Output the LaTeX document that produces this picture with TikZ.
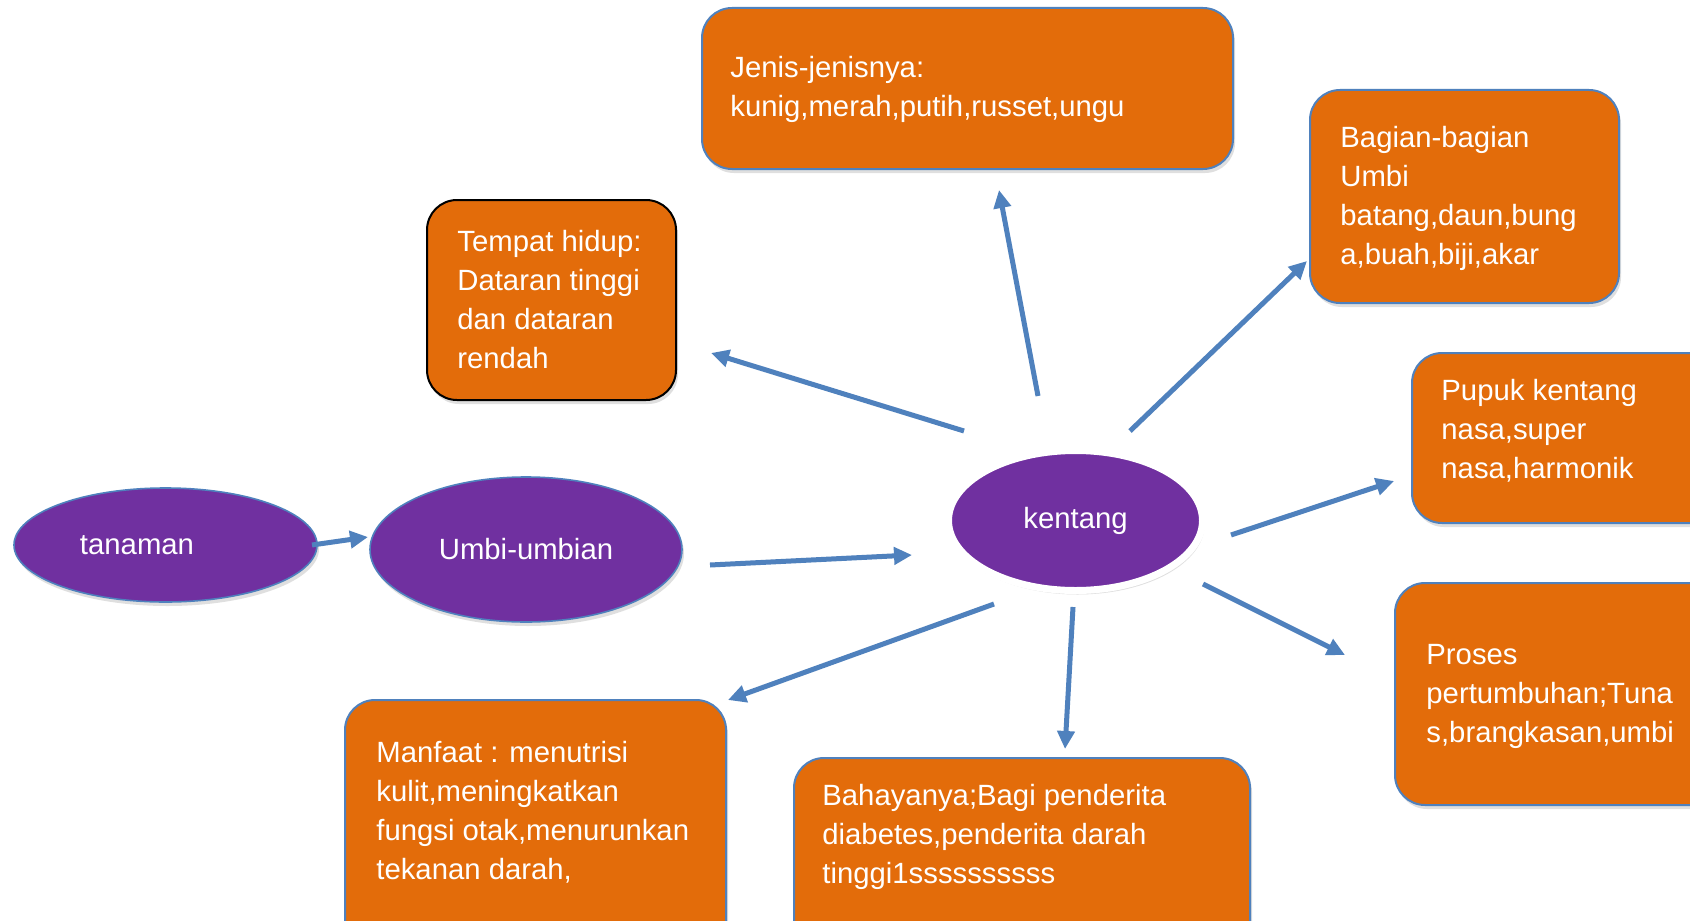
\documentclass[tikz,border=0pt]{standalone}
\usepackage{fontspec}
\setmainfont{Liberation Sans}
\usetikzlibrary{arrows.meta,shapes.geometric,shadows}
\definecolor{org}{HTML}{E36C0A}
\definecolor{pur}{HTML}{7030A0}
\definecolor{blu}{HTML}{4F81BD}
\begin{document}
\begin{tikzpicture}[x=0.5pt,y=-0.5pt,
  box/.style={draw=blu, line width=1pt, fill=org, rounded corners=15pt, inner sep=0pt,
    drop shadow={opacity=0.25, shadow xshift=1pt, shadow yshift=-2pt}},
  blackbox/.style={box, draw=black},
  txt/.style={text=white, align=left, anchor=west, inner sep=0pt,
    font=\fontsize{14.65}{19.5}\selectfont},
  oval/.style={ellipse, fill=pur, draw=blu, line width=0.8pt, inner sep=0pt,
    text=white, font=\fontsize{14.65}{19.5}\selectfont,
    drop shadow={opacity=0.25, shadow xshift=1pt, shadow yshift=-2pt}},
  arr/.style={draw=blu, line width=2.5pt, -{Triangle[length=9pt,width=8.5pt]}}]
\useasboundingbox (0,0) rectangle (1690,920);
\clip (0,0) rectangle (1690,920);
\fill[white] (0,0) rectangle (1690,920);

% boxes
\node[box, minimum width=265.5pt, minimum height=80.5pt] (jenis) at (967.5,88.5) {};
\node[txt] (jenisT) at (730,89.5) {Jenis-jenisnya:\\kunig,merah,putih,russet,ungu};

\node[box, minimum width=154.5pt, minimum height=106.5pt] (bagian) at (1464.5,196.5) {};
\node[txt] (bagianT) at (1340,198) {Bagian-bagian\\Umbi\\batang,daun,bung\\a,buah,biji,akar};

\node[blackbox, minimum width=124.5pt, minimum height=100pt] (tempat) at (551.5,300) {};
\node[txt] (tempatT) at (457,300) {Tempat hidup:\\Dataran tinggi\\dan dataran\\rendah};

\node[box, minimum width=169pt, minimum height=85pt] (pupuk) at (1581,438) {};
\node[txt] (pupukT) at (1441,431) {Pupuk kentang\\nasa,super\\nasa,harmonik};

\node[box, minimum width=177.5pt, minimum height=111pt] (proses) at (1572.5,694) {};
\node[txt] (prosesT) at (1426,696) {Proses\\pertumbuhan;Tuna\\s,brangkasan,umbi};

\node[box, minimum width=190.5pt, minimum height=130pt] (manfaat) at (535.5,830) {};
\node[txt] (manfaatT) at (376,812.5) {Manfaat : menutrisi\\kulit,meningkatkan\\fungsi otak,menurunkan\\tekanan darah,};

\node[box, minimum width=228pt, minimum height=101pt] (bahaya) at (1022,859) {};
\node[txt] (bahayaT) at (822,837) {Bahayanya;Bagi penderita\\diabetes,penderita darah\\tinggi1ssssssssss};

% ellipses
\node[oval, minimum width=151.5pt, minimum height=57pt] (tanaman) at (165.5,545) {};
\node[txt, anchor=center] (tanamanT) at (137,545) {tanaman};
\node[oval, minimum width=156pt, minimum height=72.5pt] (umbi) at (526,549.5) {Umbi-umbian};
\node[oval, draw=white, line width=3.5pt, minimum width=127pt, minimum height=70pt] (kentang) at (1075.5,520.5) {kentang};

% arrow end points
\coordinate (s1) at (312,545);  \coordinate (e1) at (368,537);
\coordinate (s2) at (710,565);  \coordinate (e2) at (912,555);
\coordinate (s3) at (964,431);  \coordinate (e3) at (711,353);
\coordinate (s4) at (1038,396); \coordinate (e4) at (999,190);
\coordinate (s5) at (1130,431); \coordinate (e5) at (1307,261);
\coordinate (s6) at (1231,535); \coordinate (e6) at (1394,481);
\coordinate (s7) at (1203,584); \coordinate (e7) at (1345,655);
\coordinate (s8) at (1073,607); \coordinate (e8) at (1065,749);
\coordinate (s9) at (994,604);  \coordinate (e9) at (728,700);

\draw[arr] (s1) -- (e1);
\draw[arr] (s2) -- (e2);
\draw[arr] (s3) -- (e3);
\draw[arr] (s4) -- (e4);
\draw[arr] (s5) -- (e5);
\draw[arr] (s6) -- (e6);
\draw[arr] (s7) -- (e7);
\draw[arr] (s8) -- (e8);
\draw[arr] (s9) -- (e9);
\end{tikzpicture}
\end{document}
